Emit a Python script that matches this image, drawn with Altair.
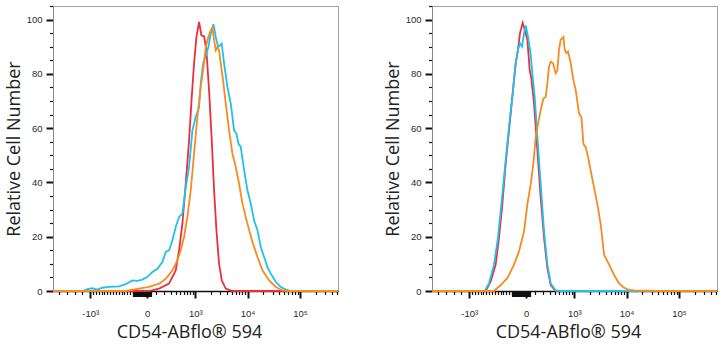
import math
import altair as alt
import pandas as pd

# ---------------- data (x: biexponential display units, 1 unit ~ one decade; y: relative cell number) -------------
X_MIN, X_MAX = -1.79, 3.635

left_red_x = [-1.79, 0.038, 0.229, 0.419, 0.546, 0.610, 0.673, 0.737, 0.800, 0.851, 0.895, 0.940, 0.991,
              1.035, 1.086, 1.130, 1.181, 1.232, 1.276, 1.321, 1.371, 1.422, 1.498, 1.625, 3.635]
left_red_y = [0, 0, 0.9, 2.7, 7.6, 15.0, 24.8, 39.5, 55.5, 71.5, 83.8, 93.6, 99.1,
              94.2, 93.8, 88.7, 73.9, 55.5, 37.1, 22.4, 10.1, 3.9, 0.9, 0, 0]

left_orange_x = [-1.79, -0.406, -0.152, 0.038, 0.229, 0.356, 0.483, 0.578, 0.641, 0.705, 0.768, 0.832, 0.895,
                 0.959, 1.022, 1.067, 1.118, 1.168, 1.213, 1.244, 1.276, 1.308, 1.340, 1.371, 1.403, 1.448,
                 1.498, 1.562, 1.625, 1.689, 1.752, 1.816, 1.911, 2.006, 2.102, 2.197, 2.324, 2.451, 2.578,
                 2.705, 3.635]
left_orange_y = [0, 0, 0.9, 1.5, 2.7, 4.5, 7.6, 11.3, 15.0, 19.9, 27.3, 37.1, 50.6,
                 64.1, 75.2, 81.3, 89.9, 93.6, 96.0, 97.0, 92.4, 88.7, 89.9, 88.7, 83.8, 77.6,
                 69.0, 59.2, 50.6, 45.7, 39.5, 32.2, 24.8, 18.1, 12.5, 7.6, 3.9, 1.5, 0.2,
                 0, 0]

left_cyan_x = [-1.79, -1.232, -1.136, -1.041, -0.946, -0.851, -0.724, -0.533, -0.406, -0.279, -0.184, -0.089,
               0.006, 0.102, 0.197, 0.292, 0.356, 0.419, 0.483, 0.546, 0.610, 0.673, 0.737, 0.800, 0.864,
               0.927, 0.991, 1.022, 1.067, 1.118, 1.168, 1.213, 1.264, 1.308, 1.352, 1.391, 1.422, 1.467,
               1.530, 1.594, 1.657, 1.702, 1.740, 1.784, 1.848, 1.911, 1.975, 2.038, 2.102, 2.165, 2.229,
               2.292, 2.356, 2.451, 2.546, 2.641, 2.737, 3.635]
left_cyan_y = [0, 0, 0.7, 1.0, 0.5, 1.2, 1.5, 1.7, 2.5, 3.9, 3.7, 4.2,
               5.2, 7.0, 8.2, 10.7, 14.4, 15.0, 18.7, 23.6, 27.3, 28.5, 38.3, 45.7, 59.2,
               64.1, 67.8, 76.4, 83.8, 86.8, 89.9, 94.8, 98.3, 93.6, 89.9, 90.5, 91.1, 83.8,
               75.2, 69.0, 59.2, 58.0, 54.3, 53.1, 44.5, 37.1, 32.2, 26.0, 22.4, 16.2, 12.5,
               8.8, 6.4, 3.3, 1.5, 0.5, 0, 0]

right_red_x = [-1.79, -0.769, -0.673, -0.578, -0.515, -0.451, -0.388, -0.324, -0.261, -0.197, -0.153, -0.115,
               -0.064, -0.026, 0.025, 0.070, 0.101, 0.152, 0.216, 0.279, 0.343, 0.406, 0.470, 0.565, 3.635]
right_red_y = [0, 0, 3.5, 9.7, 19.6, 31.9, 46.8, 59.2, 71.5, 83.9, 88.9, 95.0,
               98.8, 96.3, 92.6, 81.4, 78.3, 69.1, 51.7, 34.4, 19.6, 8.4, 2.2, 0, 0]

right_cyan_x = [-1.79, -0.788, -0.705, -0.610, -0.534, -0.470, -0.388, -0.324, -0.261, -0.197, -0.153, -0.115,
                -0.076, -0.038, -0.007, 0.025, 0.057, 0.089, 0.120, 0.165, 0.216, 0.279, 0.343, 0.406,
                0.470, 0.565, 0.660, 3.635]
right_cyan_y = [0, 0, 2.8, 9.7, 19.6, 31.9, 48.0, 60.4, 71.5, 83.9, 88.9, 91.3,
                90.1, 95.0, 97.8, 95.0, 91.3, 87.0, 80.2, 71.5, 56.7, 39.4, 22.0, 9.7,
                2.8, 0.2, 0, 0]

right_orange_x = [-1.79, -0.610, -0.483, -0.356, -0.229, -0.134, -0.038, 0.025, 0.089, 0.139, 0.184, 0.228,
                  0.279, 0.330, 0.374, 0.406, 0.438, 0.470, 0.514, 0.565, 0.597, 0.628, 0.660, 0.692, 0.711,
                  0.736, 0.768, 0.800, 0.851, 0.901, 0.946, 1.009, 1.054, 1.092, 1.136, 1.181, 1.231, 1.295,
                  1.358, 1.422, 1.485, 1.581, 1.676, 1.771, 1.866, 1.962, 2.057, 2.311, 2.438, 3.635]
right_orange_y = [0, 0, 2.2, 4.7, 9.7, 14.6, 22.0, 31.9, 39.4, 46.8, 56.7, 61.6,
                  66.6, 70.9, 71.5, 76.5, 82.7, 84.5, 83.9, 80.2, 81.4, 88.9, 92.6, 93.2, 93.6,
                  88.9, 87.6, 88.2, 83.9, 77.7, 74.0, 65.3, 64.1, 54.2, 53.0, 49.3, 44.3, 38.1,
                  31.9, 24.5, 13.4, 9.7, 5.9, 2.8, 1.2, 0.4, 0.25, 0.1, 0, 0]

# axis tick values (fluorescence units) and labels
major_values = [-1000, 0, 1000, 10000, 100000]
major_labels = ["-10³", "0", "10³", "10⁴", "10⁵"]
minor_values = ([-5000, -4000, -3000, -2000] + list(range(-950, -249, 50)) +
                list(range(100, 1000, 100)) + list(range(2000, 10000, 1000)) +
                list(range(20000, 100000, 10000)) + [200000, 300000, 400000, 500000])
dense_values = list(range(-240, 41, 10))

SERIES_COLORS = {"red": "#ea2f3c", "cyan": "#1fc1eb", "orange": "#f68b1f"}


def biex(v):
    """Display transform of the cytometry axis (asinh for positives, compressed linear for negatives)."""
    if v >= 0:
        return math.asinh(v / 244.7) / math.log(10)
    if v >= -1000:
        return v * 1.08 / 1000
    return -1.08 - 0.15 * (-v - 1000) / 1000


major_pos = [round(biex(v), 5) for v in major_values]
minor_pos = [round(biex(v), 5) for v in minor_values]
dense_pos = [round(biex(v), 5) for v in dense_values]
all_pos = [p for p in sorted(set(major_pos + minor_pos + dense_pos)) if X_MIN <= p <= X_MAX]

major_test = " || ".join(f"abs(datum.value - ({p})) < 1e-6" for p in major_pos)
label_expr = ""
for p, lab in zip(major_pos, major_labels):
    label_expr += f"abs(datum.value - ({p})) < 1e-6 ? '{lab}' : "
label_expr += "''"
dense_test = f"datum.value > {min(dense_pos) - 0.002} && datum.value < {max(dense_pos) + 0.002}"

x_axis = alt.Axis(
    values=all_pos,
    labelExpr=label_expr,
    title="CD54-ABflo® 594",
    tickSize={"condition": [{"test": major_test, "value": 7}, {"test": dense_test, "value": 5.5}], "value": 3.5},
    tickWidth={"condition": {"test": major_test, "value": 2}, "value": 1.2},
    labelPadding=10,
    titlePadding=6,
    titleX=136,
)
y_axis = alt.Axis(
    values=list(range(0, 106, 5)),
    labelExpr="datum.value % 20 === 0 ? datum.label : ''",
    title="Relative Cell Number",
    tickSize={"condition": {"test": "datum.value % 20 === 0", "value": 7}, "value": 3.5},
    tickWidth={"condition": {"test": "datum.value % 20 === 0", "value": 2}, "value": 1.2},
    labelPadding=4,
    titlePadding=3,
)


def panel(series):
    layers = []
    for name, xs, ys in series:
        df = pd.DataFrame({"x": xs, "y": ys})
        layers.append(
            alt.Chart(df).mark_line(color=SERIES_COLORS[name], strokeWidth=1.8).encode(
                x=alt.X("x:Q", scale=alt.Scale(domain=[X_MIN, X_MAX], nice=False, zero=False), axis=x_axis),
                y=alt.Y("y:Q", scale=alt.Scale(domain=[0, 105], nice=False, zero=False), axis=y_axis),
            )
        )
    return alt.layer(*layers).properties(width=285, height=285)


left = panel([("red", left_red_x, left_red_y), ("cyan", left_cyan_x, left_cyan_y),
              ("orange", left_orange_x, left_orange_y)])
right = panel([("red", right_red_x, right_red_y), ("cyan", right_cyan_x, right_cyan_y),
               ("orange", right_orange_x, right_orange_y)])

chart = alt.hconcat(left, right, spacing=40).properties(
    padding={"left": 4, "top": 4, "right": 0, "bottom": 0},
    background="white",
).configure_view(
    stroke="#a0a0a0", strokeWidth=1
).configure_axis(
    grid=False,
    tickColor="#111",
    labelColor="#2a2a2a",
    labelFont="Liberation Sans",
    labelFontSize=9.5,
    titleFont="Open Sans",
    titleFontSize=18,
    titleFontWeight="normal",
    titleColor="#222",
).configure_axisX(
    domainColor="#111", domainWidth=1.5,
).configure_axisY(
    domainColor="#8a8a8a", domainWidth=1,
)

chart.save("out.html", embed_options={"renderer": "svg", "actions": False})
